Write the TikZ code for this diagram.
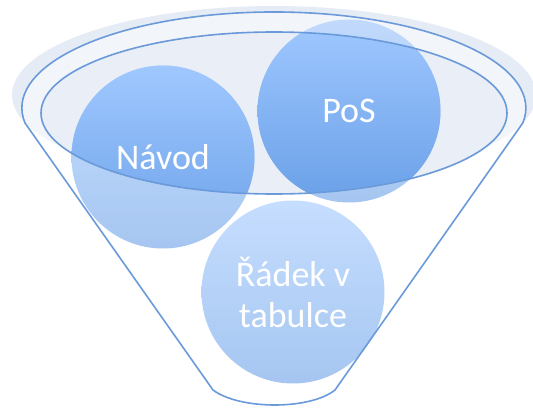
\documentclass[tikz,border=0pt]{standalone}
\usepackage{fontspec}
\setmainfont{Carlito}
\usepackage{tikz}
\usetikzlibrary{positioning}

\definecolor{glow}{HTML}{E6ECF6}
\definecolor{rimfill}{HTML}{E9EEF7}
\definecolor{rimline}{HTML}{6A9AD9}
\definecolor{bubbletop}{HTML}{A0C8FF}
\definecolor{bubblebot}{HTML}{6AA0E8}

\begin{document}
\begin{tikzpicture}[x=1pt, y=-1pt,
    bubble/.style={circle, minimum size=183pt, inner sep=0pt, top color=bubbletop, bottom color=bubblebot, fill opacity=0.6},
    word/.style={text=white, align=center, font=\fontsize{36}{41}\selectfont}]
    \useasboundingbox (0,0) rectangle (533,409);

    % funnel top
    \fill[glow] (274,95) ellipse [x radius=262, y radius=89];
    \fill[white, fill opacity=0.5] (213,390) -- (25,123)
        arc[start angle=171, end angle=369, x radius=252, y radius=96]
        -- (335,390) .. controls (310,410) and (240,410) .. cycle;
    \fill[rimfill] (274,113) ellipse [x radius=233, y radius=81];

    % Define nodes
    \node[bubble] (navod) at (163,157) {};
    \node[bubble] (pos) at (349,111) {};
    \node[bubble] (radek) at (293,292) {};

    % part seen inside the funnel
    \begin{scope}
        \clip (274,113) ellipse [x radius=233, y radius=81];
        \shade[top color=bubbletop, bottom color=bubblebot] (navod.center) circle (91.5);
        \shade[top color=bubbletop, bottom color=bubblebot] (pos.center) circle (91.5);
    \end{scope}

    % outlines
    \draw[rimline, line width=1.6pt] (274,113) ellipse [x radius=233, y radius=81];
    \draw[rimline, line width=1.6pt] (213,390) -- (25,123)
        arc[start angle=171, end angle=369, x radius=252, y radius=96]
        -- (335,390) .. controls (310,410) and (240,410) .. cycle;

    % labels
    \node[word] (navodtext) at (navod) {Návod};
    \node[word] (postext) at (pos) {PoS};
    \node[word] (radektext) at (radek) {Řádek v\\tabulce};
\end{tikzpicture}
\end{document}
